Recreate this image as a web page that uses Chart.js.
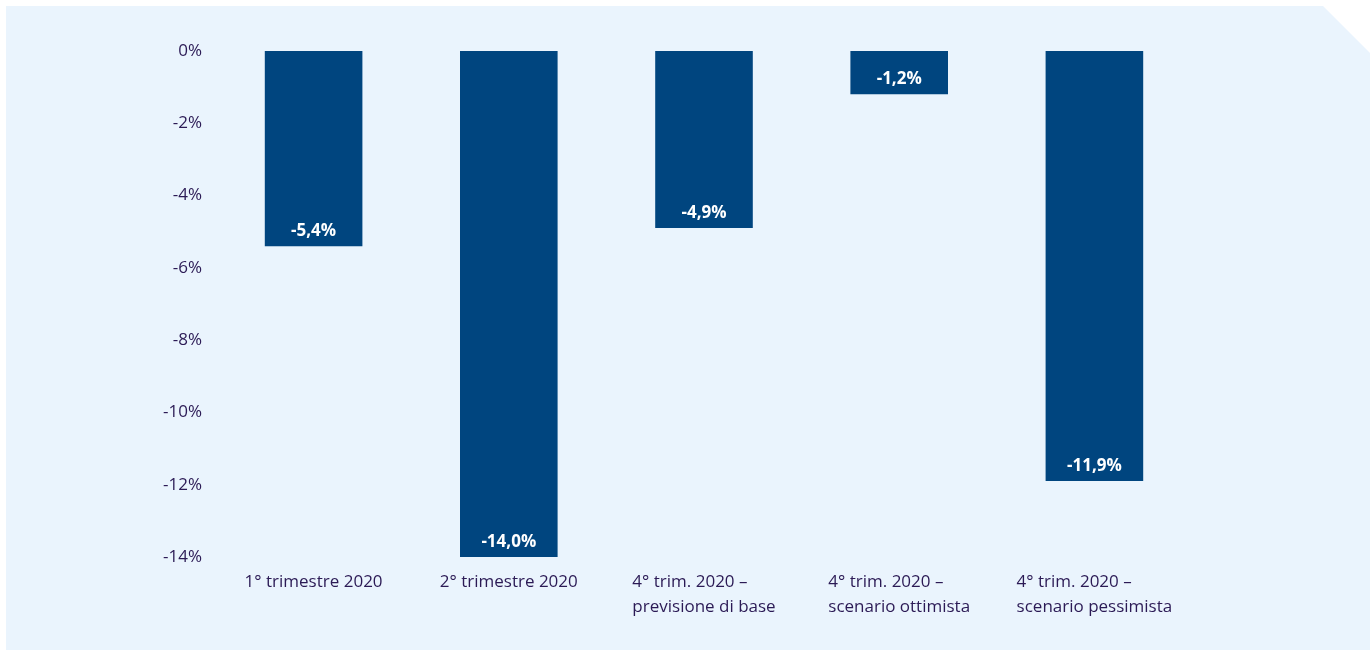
<!DOCTYPE html>
<html>
<head>
<meta charset="utf-8">
<script src="https://cdn.jsdelivr.net/npm/chart.js@4"></script>
<style>
  html, body { margin: 0; padding: 0; background: #fff; }
  #panel {
    position: absolute; left: 6px; top: 6px; width: 1364px; height: 644px;
    background: #eaf4fd;
    clip-path: polygon(0 0, 1317px 0, 1364px 47px, 1364px 644px, 0 644px);
  }
  #wrap { position: absolute; left: 0; top: 0; width: 1370px; height: 650px; }
</style>
</head>
<body>
<div id="panel"></div>
<div id="wrap"><canvas id="chart"></canvas></div>
<script>
// Categories and values (change %)
const categories = [
  ["1° trimestre 2020"],
  ["2° trimestre 2020"],
  ["4° trim. 2020 –", "previsione di base"],
  ["4° trim. 2020 –", "scenario ottimista"],
  ["4° trim. 2020 –", "scenario pessimista"]
];
const values = [-5.4, -14.0, -4.9, -1.2, -11.9];

const barColor = "#00457f";
const textColor = "#2b1a55";
const fontFamily = "'Open Sans'";

// Labels inside bar ends (Italian decimal comma) + left-aligned category blocks
const labelsPlugin = {
  id: "labelsPlugin",
  afterDatasetsDraw(chart) {
    const ctx = chart.ctx;
    const meta = chart.getDatasetMeta(0);
    ctx.save();
    ctx.fillStyle = "#ffffff";
    ctx.font = "bold 17px " + fontFamily;
    ctx.textAlign = "center";
    ctx.textBaseline = "middle";
    meta.data.forEach((bar, i) => {
      const txt = values[i].toFixed(1).replace(".", ",") + "%";
      ctx.fillText(txt, bar.x, bar.y - 15);
    });

    const xScale = chart.scales.x;
    ctx.fillStyle = textColor;
    ctx.font = "17px " + fontFamily;
    ctx.textAlign = "left";
    categories.forEach((lines, i) => {
      const cx = xScale.getPixelForTick(i);
      const w = Math.max(...lines.map(l => ctx.measureText(l).width));
      lines.forEach((l, j) => {
        ctx.fillText(l, cx - w / 2, xScale.top + 25 + j * 25);
      });
    });
    ctx.restore();
  }
};

new Chart(document.getElementById("chart"), {
  type: "bar",
  data: {
    labels: categories,
    datasets: [{
      data: values,
      backgroundColor: barColor,
      barPercentage: 0.5,
      categoryPercentage: 1.0
    }]
  },
  options: {
    responsive: true,
    maintainAspectRatio: false,
    animation: false,
    layout: { padding: { top: 51, right: 178, left: 0, bottom: 0 } },
    plugins: {
      legend: { display: false },
      tooltip: { enabled: false }
    },
    scales: {
      x: {
        grid: { display: false, drawTicks: false },
        border: { display: false },
        ticks: { display: false },
        afterFit: s => { s.height = 93; }
      },
      y: {
        min: -14,
        max: 0,
        grid: { display: false, drawTicks: false },
        border: { display: false },
        ticks: {
          stepSize: 2,
          color: textColor,
          font: { family: "Open Sans", size: 17 },
          padding: 14,
          callback: v => v + "%"
        },
        afterFit: s => { s.width = 216; }
      }
    }
  },
  plugins: [labelsPlugin]
});
</script>
</body>
</html>
